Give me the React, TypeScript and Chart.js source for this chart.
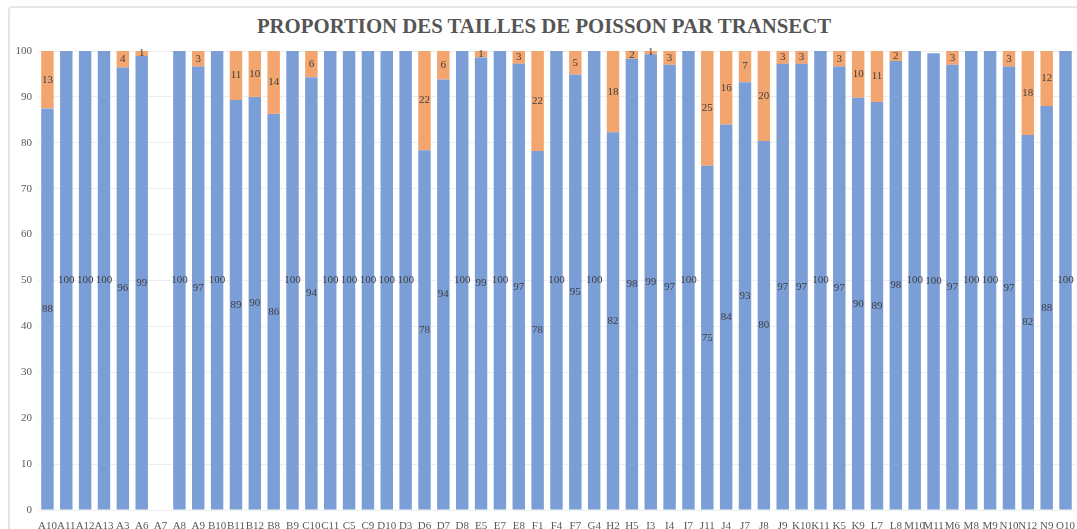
import React, { useEffect, useRef } from "react";
import { Chart, registerables } from "chart.js";

Chart.register(...registerables);

const categories = [
  "A10", "A11", "A12", "A13", "A3", "A6", "A7", "A8", "A9", "B10", "B11", "B12", "B8", "B9",
  "C10", "C11", "C5", "C9", "D10", "D3", "D6", "D7", "D8", "E5", "E7", "E8", "F1", "F4", "F7",
  "G4", "H2", "H5", "I3", "I4", "I7", "J11", "J4", "J7", "J8", "J9", "K10", "K11", "K5", "K9",
  "L7", "L8", "M10", "M11", "M6", "M8", "M9", "N10", "N12", "N9", "O10",
];

const blueValues: (number | null)[] = [
  87.5, 100, 100, 100, 96.4, 98.9, null, 100, 96.6, 100, 89.3, 90, 86.3, 100,
  94.3, 100, 100, 100, 100, 100, 78.4, 93.8, 100, 98.6, 100, 97.2, 78.2, 100, 94.9,
  100, 82.3, 98.3, 99.3, 97, 100, 75, 84, 93.2, 80.4, 97.2, 97.2, 100, 96.6, 89.8,
  88.9, 97.8, 100, 99.5, 97, 100, 100, 96.6, 81.7, 88, 100,
];

const orangeValues: (number | null)[] = [
  12.5, 0, 0, 0, 3.6, 1.1, null, 0, 3.4, 0, 10.7, 10, 13.7, 0,
  5.7, 0, 0, 0, 0, 0, 21.6, 6.2, 0, 1.4, 0, 2.8, 21.8, 0, 5.1,
  0, 17.7, 1.7, 0.7, 3, 0, 25, 16, 6.8, 19.6, 2.8, 2.8, 0, 3.4, 10.2,
  11.1, 2.2, 0, 0, 3, 0, 0, 3.4, 18.3, 12, 0,
];

const yTicks = [0, 10, 20, 30, 40, 50, 60, 70, 80, 90, 100];

const TITLE = "PROPORTION DES TAILLES DE POISSON PAR TRANSECT";
const SERIF = "'Liberation Serif', 'Times New Roman', serif";

const dataLabelPlugin = {
  id: "segLabels",
  afterDatasetsDraw(chart: any) {
    const ctx = chart.ctx;
    ctx.save();
    ctx.font = `11px ${SERIF}`;
    ctx.fillStyle = "#404040";
    ctx.textAlign = "center";
    ctx.textBaseline = "middle";
    chart.data.datasets.forEach((ds: any, di: number) => {
      const meta = chart.getDatasetMeta(di);
      meta.data.forEach((el: any, i: number) => {
        const v = ds.data[i];
        if (v === null || v === undefined || v === 0) return;
        const p = el.getProps(["x", "y", "base"], true);
        const cy = (p.y + p.base) / 2;
        ctx.fillText(String(Math.round(v)), p.x, cy);
      });
    });
    ctx.restore();
  },
};

export default function App() {
  const ref = useRef<HTMLCanvasElement | null>(null);

  useEffect(() => {
    if (!ref.current) return;
    const chart = new Chart(ref.current, {
      type: "bar",
      data: {
        labels: categories,
        datasets: [
          {
            label: "Petits",
            data: blueValues,
            backgroundColor: "#7b9ed6",
            borderWidth: 0,
            barPercentage: 0.66,
            categoryPercentage: 1,
          },
          {
            label: "Grands",
            data: orangeValues,
            backgroundColor: "#f2a56e",
            borderWidth: 0,
            barPercentage: 0.66,
            categoryPercentage: 1,
          },
        ],
      },
      options: {
        responsive: false,
        animation: false,
        layout: { padding: { top: 51, left: 0, right: 1, bottom: 0 } },
        plugins: {
          legend: { display: false },
          tooltip: { enabled: false },
          title: { display: false },
        },
        scales: {
          x: {
            stacked: true,
            grid: { display: false },
            border: { display: false },
            ticks: {
              autoSkip: false,
              maxRotation: 0,
              minRotation: 0,
              padding: 2,
              color: "#595959",
              font: { family: SERIF, size: 11 },
            },
            afterFit(scale: any) {
              scale.height = 19;
            },
          },
          y: {
            stacked: true,
            min: 0,
            max: 100,
            afterBuildTicks(scale: any) {
              scale.ticks = yTicks.map((v) => ({ value: v }));
            },
            grid: { color: "#eeeeee", drawTicks: false },
            border: { display: false },
            ticks: {
              padding: 6,
              color: "#595959",
              font: { family: SERIF, size: 11 },
            },
            afterFit(scale: any) {
              scale.width = 38;
            },
          },
        },
      },
      plugins: [dataLabelPlugin],
    });
    return () => chart.destroy();
  }, []);

  return (
    <div
      style={{
        position: "fixed",
        left: 0,
        top: 0,
        width: 1077,
        height: 529,
        background: "#ffffff",
        overflow: "hidden",
      }}
    >
      <div
        style={{
          position: "absolute",
          left: 8,
          top: 6,
          width: 1200,
          height: 700,
          borderLeft: "2px solid #e6e6e6",
          borderTop: "2px solid #e6e6e6",
          borderTopLeftRadius: 4,
        }}
      />
      <div
        style={{
          position: "absolute",
          left: 0,
          top: 16,
          width: 1088,
          textAlign: "center",
          fontFamily: SERIF,
          fontWeight: "bold",
          fontSize: 21,
          lineHeight: "21px",
          color: "#555555",
          whiteSpace: "nowrap",
          transform: "scaleX(0.99)",
          transformOrigin: "544px 0",
        }}
      >
        {TITLE}
      </div>
      <canvas
        ref={ref}
        width={1077}
        height={529}
        style={{ position: "absolute", left: 0, top: 0, width: 1077, height: 529 }}
      />
    </div>
  );
}
